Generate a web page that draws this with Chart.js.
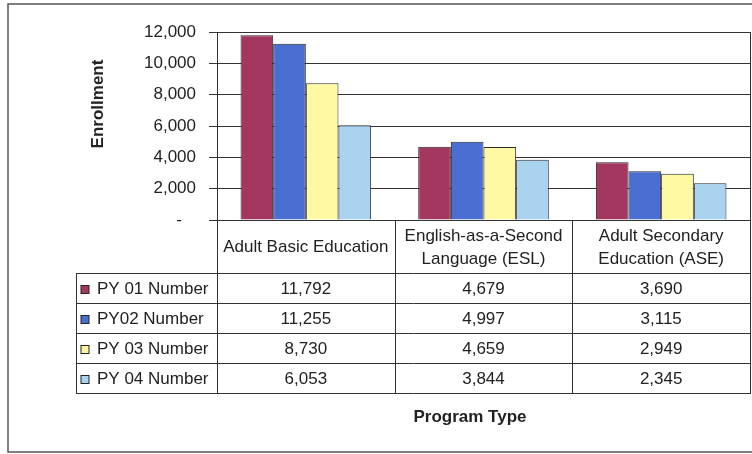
<!DOCTYPE html>
<html>
<head>
<meta charset="utf-8">
<title>Enrollment by Program Type</title>
<script src="https://cdn.jsdelivr.net/npm/chart.js@4/dist/chart.umd.min.js"></script>
<style>
  html, body { margin: 0; padding: 0; background: #fff; }
  canvas { display: block; }
</style>
</head>
<body>
<canvas id="enrollChart" width="752" height="454"></canvas>
<script>
// Program types (columns of the data table)
const programs = [
    ['Adult Basic Education'],
    ['English-as-a-Second', 'Language (ESL)'],
    ['Adult Secondary', 'Education (ASE)']
];

// Series names and enrollment numbers per program year
const seriesNames = ['PY 01 Number', 'PY02 Number', 'PY 03 Number', 'PY 04 Number'];
const py01 = [11792, 4679, 3690];
const py02 = [11255, 4997, 3115];
const py03 = [8730, 4659, 2949];
const py04 = [6053, 3844, 2345];
const seriesColors = ['#a3375f', '#4a6ed2', '#fff9a3', '#a9d3ef'];

const FONT = "'Liberation Sans', Arial, sans-serif";
const TEXT = '#222';
const LINE = '#333';

const fmt = v => v.toLocaleString('en-US');

// Frame, y title and data table below the plot
const tablePlugin = {
    id: 'dataTable',
    beforeDraw(chart) {
        const ctx = chart.ctx;
        ctx.save();
        ctx.fillStyle = '#fff';
        ctx.fillRect(0, 0, chart.width, chart.height);
        ctx.strokeStyle = '#555';
        ctx.lineWidth = 1.5;
        ctx.strokeRect(8, 4, chart.width + 20, chart.height - 6);
        ctx.restore();
    },
    afterDraw(chart) {
        const ctx = chart.ctx;
        const area = chart.chartArea;
        const x = chart.scales.x;
        const colW = (area.right - area.left) / programs.length;
        const headTop = area.bottom;
        const headBottom = headTop + 53;
        const rowH = 30;
        const tableLeft = 76;
        const tableBottom = headBottom + rowH * seriesNames.length;

        ctx.save();
        ctx.strokeStyle = LINE;
        ctx.lineWidth = 1;

        // right border of the plot
        ctx.beginPath();
        ctx.moveTo(area.right + 0.5, area.top);
        ctx.lineTo(area.right + 0.5, tableBottom);
        ctx.stroke();

        // horizontal rules
        for (let r = 0; r <= seriesNames.length; r++) {
            const y = Math.round(headBottom + r * rowH) + 0.5;
            ctx.beginPath();
            ctx.moveTo(tableLeft, y);
            ctx.lineTo(area.right + 1, y);
            ctx.stroke();
        }
        // vertical rules
        ctx.beginPath();
        ctx.moveTo(tableLeft + 0.5, headBottom);
        ctx.lineTo(tableLeft + 0.5, tableBottom);
        ctx.stroke();
        for (let c = 0; c < programs.length; c++) {
            const xl = Math.round(x.getPixelForValue(c) - colW / 2) + 0.5;
            ctx.beginPath();
            ctx.moveTo(xl, headTop);
            ctx.lineTo(xl, tableBottom);
            ctx.stroke();
        }

        ctx.fillStyle = TEXT;
        ctx.font = '17px ' + FONT;
        ctx.textAlign = 'center';
        ctx.textBaseline = 'middle';

        // column headers
        programs.forEach((lines, c) => {
            const cx = x.getPixelForValue(c);
            const mid = (headTop + headBottom) / 2 + 1;
            lines.forEach((line, i) => {
                const y = mid + (i - (lines.length - 1) / 2) * 23;
                ctx.fillText(line, cx, y);
            });
        });

        // rows: legend key, name, values
        const data = chart.data.datasets;
        data.forEach((ds, r) => {
            const cy = headBottom + r * rowH + rowH / 2 + 1;
            ctx.fillStyle = ds.backgroundColor;
            ctx.fillRect(81, Math.round(cy - 4) + 0.5, 8, 8);
            ctx.strokeStyle = '#222';
            ctx.strokeRect(81, Math.round(cy - 4) + 0.5, 8, 8);
            ctx.fillStyle = TEXT;
            ctx.textAlign = 'left';
            ctx.fillText(ds.label, 97, cy);
            ctx.textAlign = 'center';
            ds.data.forEach((v, c) => {
                ctx.fillText(fmt(v), x.getPixelForValue(c), cy);
            });
        });

        // axis titles
        ctx.font = 'bold 17px ' + FONT;
        ctx.fillText('Program Type', 470, 417);
        ctx.translate(98, 104);
        ctx.rotate(-Math.PI / 2);
        ctx.fillText('Enrollment', 0, 0);
        ctx.restore();
    }
};

const allSeries = [py01, py02, py03, py04];

new Chart(document.getElementById('enrollChart'), {
    type: 'bar',
    data: {
        labels: programs.map(p => p.join(' ')),
        datasets: allSeries.map((vals, i) => ({
            label: seriesNames[i],
            data: vals,
            backgroundColor: seriesColors[i],
            borderColor: '#2a2a2a',
            borderWidth: 1,
            categoryPercentage: 0.735,
            barPercentage: 1.0
        }))
    },
    options: {
        responsive: false,
        animation: false,
        devicePixelRatio: 1,
        layout: { padding: { top: 32, right: 2, bottom: 234, left: 0 } },
        plugins: {
            legend: { display: false },
            tooltip: { enabled: false }
        },
        scales: {
            x: { display: false },
            y: {
                min: 0,
                max: 12000,
                afterFit(scale) { scale.width = 217; },
                ticks: {
                    stepSize: 2000,
                    padding: 13,
                    color: TEXT,
                    font: { family: FONT, size: 17 },
                    callback: v => v === 0 ? '-   ' : fmt(v)
                },
                grid: {
                    color: LINE,
                    lineWidth: 1,
                    tickLength: 8
                },
                border: { display: true, color: LINE, width: 1 }
            }
        }
    },
    plugins: [tablePlugin]
});
</script>
</body>
</html>
